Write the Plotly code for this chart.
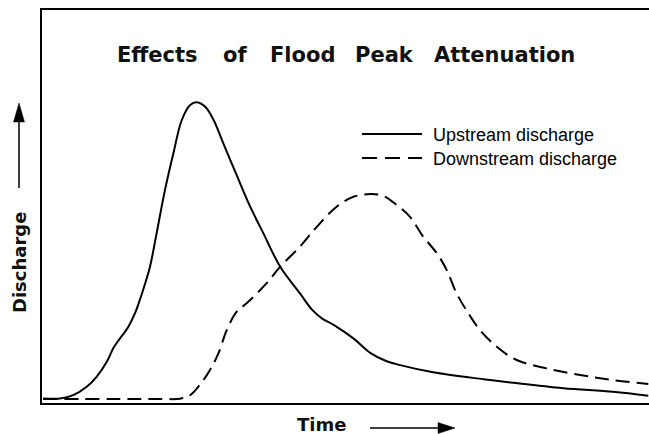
import plotly.graph_objects as go

# ---- data (arbitrary units: time, discharge) ----
up_time = [0.2, 3.0, 5.2, 7.45, 9.1, 10.8, 11.9, 13.0, 14.4, 15.5, 16.3, 17.2, 18.0, 19.1,
           20.5, 21.9, 23.3, 24.7, 25.8, 27.2, 28.6, 30.2, 32.45, 34.7, 36.9, 39.7, 43.0,
           45.0, 46.7, 48.6, 51.9, 54.7, 57.45, 59.7, 65.2, 73.6, 78.55, 86.9, 95.2, 101.05]
up_q = [0.2, 0.2, 1.3, 4.1, 7.4, 12.4, 17.0, 20.2, 24.1, 28.6, 33, 38.6, 44.1, 55.2,
        69.7, 81.9, 93, 98, 98.9, 97.4, 93, 85.3, 74.6, 64.1, 55.2, 44.1, 35.2,
        29.8, 26.8, 24.7, 20.2, 15.4, 12.6, 11.3, 8.9, 6.6, 5.4, 3.6, 2.4, 1.1]

down_time = [0.2, 12.0, 20.0, 23.0, 24.7, 26.3, 28.0, 29.4, 30.8, 32.45, 34.1, 37.45, 39.7,
             43.0, 45.8, 49.1, 51.9, 54.7, 56.9, 59.1, 61.3, 63.55, 65.8, 67.45, 69.1,
             71.05, 73.0, 75.8, 79.1, 84.1, 89.7, 95.2, 101.05]
down_q = [0, 0, 0, 0.1, 1.3, 4.7, 9.7, 15.2, 23, 29.1, 31.9, 38.6, 44.1,
          50.8, 57.4, 64.1, 67.4, 68.3, 67.7, 64.7, 60.8, 54.1, 48.6, 43, 35.2,
          28.6, 23, 17.4, 13, 10.2, 8, 6.3, 5]

title_words = ["Effects", "of", "Flood", "Peak", "Attenuation"]
legend_labels = ["Upstream discharge", "Downstream discharge"]
x_label = "Time"
y_label = "Discharge"

# ---- layout geometry (pixels) ----
W, H = 649, 434
L, R, T, B = 42, 649, 10, 403


def px(xp):
    return (xp - L) / (R - L)


def py(yp):
    return (B - yp) / (B - T)


fig = go.Figure()
fig.add_trace(go.Scatter(x=up_time, y=up_q, mode="lines",
                         line=dict(color="black", width=2, shape="spline", smoothing=1),
                         name=legend_labels[0], showlegend=False))
fig.add_trace(go.Scatter(x=down_time, y=down_q, mode="lines",
                         line=dict(color="black", width=2, shape="spline", smoothing=1, dash="14px,7px"),
                         name=legend_labels[1], showlegend=False))

annotations = []
shapes = []

title_font = dict(family="DejaVu Sans", size=21, color="#111111", weight="bold")
label_font = dict(family="DejaVu Sans", size=18, color="#111111", weight="bold")

# title words
title_centers = [157.5, 235, 302, 384.5, 504.5]
for w, cx in zip(title_words, title_centers):
    annotations.append(dict(text=w, xref="paper", yref="paper", x=px(cx), y=py(55),
                            xanchor="center", yanchor="middle", showarrow=False, font=title_font))

# legend
for i, (lab, yy) in enumerate(zip(legend_labels, [134, 158])):
    shapes.append(dict(type="line", xref="paper", yref="paper", x0=px(362), x1=px(422), y0=py(yy), y1=py(yy),
                       line=dict(color="black", width=2, dash="solid" if i == 0 else "15px,8px")))
    annotations.append(dict(text=lab, xref="paper", yref="paper", x=px(431), y=py(yy + 1),
                            xanchor="left", yanchor="middle", showarrow=False,
                            font=dict(family="Liberation Sans", size=18, color="black")))

# axis labels
annotations.append(dict(text=y_label, xref="paper", yref="paper", x=px(19), y=py(263),
                        xanchor="center", yanchor="middle", showarrow=False, textangle=-90,
                        font=label_font))
annotations.append(dict(text=x_label, xref="paper", yref="paper", x=px(321), y=py(424),
                        xanchor="center", yanchor="middle", showarrow=False, font=label_font))

# arrows
shapes.append(dict(type="line", xref="paper", yref="paper", x0=px(19), x1=px(19), y0=py(188), y1=py(118),
                   line=dict(color="black", width=1.5)))
shapes.append(dict(type="path", xref="paper", yref="paper",
                   path=f"M {px(19)} {py(103)} L {px(13.5)} {py(122)} L {px(24.5)} {py(122)} Z",
                   fillcolor="black", line=dict(color="black", width=0.5)))
shapes.append(dict(type="line", xref="paper", yref="paper", x0=px(370), x1=px(441), y0=py(428), y1=py(428),
                   line=dict(color="black", width=1.5)))
shapes.append(dict(type="path", xref="paper", yref="paper",
                   path=f"M {px(455)} {py(428)} L {px(438)} {py(422.5)} L {px(438)} {py(433.5)} Z",
                   fillcolor="black", line=dict(color="black", width=0.5)))

x_lo = 0.0
x_hi = (R - L) / 6.0
y_lo = (399 - B) / 3.0
y_hi = (399 - T) / 3.0

fig.update_layout(
    width=W, height=H,
    margin=dict(l=L, r=W - R, t=T, b=H - B, pad=0),
    paper_bgcolor="white", plot_bgcolor="white",
    showlegend=False,
    annotations=annotations, shapes=shapes,
    xaxis=dict(range=[x_lo, x_hi], showgrid=False, zeroline=False, showticklabels=False, ticks="",
               showline=True, linecolor="black", linewidth=2, mirror=True),
    yaxis=dict(range=[y_lo, y_hi], showgrid=False, zeroline=False, showticklabels=False, ticks="",
               showline=True, linecolor="black", linewidth=1.5),
)

fig.write_html("out.html", config={"displayModeBar": False},
               post_script="document.body.style.margin='0';document.body.style.overflow='hidden';")
